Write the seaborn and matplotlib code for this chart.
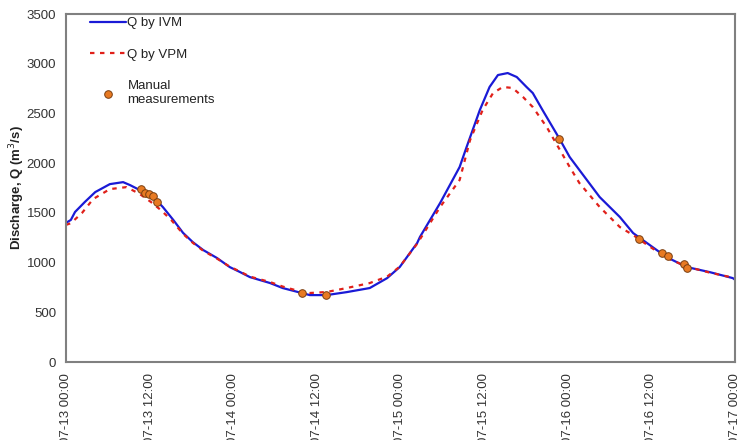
import matplotlib
matplotlib.use("Agg")
import matplotlib.pyplot as plt
import matplotlib.dates as mdates
import seaborn as sns
import pandas as pd
import numpy as np

# ---- data (hours since 07-13 00:00, discharge m3/s) ----
ivm_hours = [0, 0.7, 1.3, 2.7, 4.2, 6.3, 8.2, 9.2, 10.6, 12.5, 13.9, 15.4, 16.8, 18.2, 19.7,
             21.7, 23.5, 25.0, 26.4, 29.3, 31.1, 33.9, 35.0, 37.4, 40.3, 43.6, 46.1, 47.9,
             50.4, 50.8, 53.7, 56.5, 57.5, 59.4, 60.8, 62.0, 63.4, 64.7, 66.1, 67.0, 68.4,
             70.8, 72.3, 73.7, 76.6, 79.5, 81.4, 83.4, 86.2, 89.1, 92.4, 95.7, 96.0]
ivm_q = [1400, 1430, 1510, 1610, 1710, 1790, 1810, 1780, 1730, 1660, 1560, 1430, 1300, 1207,
         1127, 1046, 956, 905, 855, 795, 745, 694, 674, 674, 704, 745, 845, 956,
         1197, 1258, 1600, 1962, 2163, 2535, 2767, 2887, 2907, 2867, 2767, 2706, 2535,
         2250, 2062, 1931, 1660, 1459, 1298, 1197, 1056, 956, 905, 845, 830]

vpm_hours = [0, 0.7, 2.3, 3.9, 6.3, 8.7, 10.6, 12.2, 13.6, 15.1, 16.8, 18.2, 19.7, 21.7,
             23.5, 25.0, 26.4, 29.3, 31.1, 33.9, 35.0, 37.4, 40.3, 43.6, 46.1, 47.9, 50.4,
             53.7, 56.5, 58.0, 59.8, 61.3, 62.7, 64.1, 65.6, 67.0, 69.0, 70.9, 72.3, 73.7,
             76.6, 79.5, 81.4, 83.4, 86.2, 89.1, 92.4, 95.7, 96.0]
vpm_q = [1380, 1397, 1500, 1640, 1740, 1760, 1690, 1610, 1530, 1430, 1290, 1200, 1120, 1040,
         960, 910, 860, 805, 760, 705, 695, 705, 745, 795, 860, 960, 1190,
         1560, 1831, 2233, 2535, 2706, 2767, 2757, 2666, 2565, 2364, 2133, 1962, 1800,
         1560, 1358, 1278, 1180, 1050, 960, 900, 850, 840]

manual_hours = [10.8, 11.3, 11.9, 12.5, 13.0, 33.9, 37.3, 70.7, 82.2, 85.5, 86.4, 88.7, 89.2]
manual_q = [1740, 1700, 1690, 1670, 1610, 694, 674, 2243, 1237, 1097, 1066, 986, 946]

series_labels = ["Q by IVM", "Q by VPM", "Manual\nmeasurements"]
start = pd.Timestamp("2011-07-13 00:00")
end = pd.Timestamp("2011-07-17 00:00")

def to_time(h):
    return start + pd.to_timedelta(np.array(h, dtype=float), unit="h")

df_ivm = pd.DataFrame({"time": to_time(ivm_hours), "Q": ivm_q})
df_vpm = pd.DataFrame({"time": to_time(vpm_hours), "Q": vpm_q})
df_man = pd.DataFrame({"time": to_time(manual_hours), "Q": manual_q})

sns.set_theme(style="white")
plt.rcParams['font.family'] = ['Liberation Sans', 'DejaVu Sans']

fig = plt.figure(figsize=(7.43, 4.40), dpi=100)
ax = fig.add_axes([0.0888, 0.177, 0.9002, 0.791])

sns.lineplot(data=df_ivm, x="time", y="Q", ax=ax, color="#1a1ad6", lw=1.6,
             label=series_labels[0])
sns.lineplot(data=df_vpm, x="time", y="Q", ax=ax, color="#e0201a", lw=1.6,
             linestyle=(0, (2, 2.5)), label=series_labels[1])
sns.scatterplot(data=df_man, x="time", y="Q", ax=ax, color="#e87a22",
                edgecolor="#7a3e10", linewidth=0.7, s=30, zorder=5,
                label=series_labels[2])

ax.set_xlim(start, end)
ax.set_ylim(0, 3500)
ax.set_yticks(range(0, 3501, 500))
ax.xaxis.set_major_locator(mdates.HourLocator(byhour=[0, 12]))
ax.xaxis.set_major_formatter(mdates.DateFormatter("%m-%d %H:%M"))
for lab in ax.get_xticklabels():
    lab.set_rotation(90)
ax.tick_params(axis="x", labelsize=9.5, labelcolor="#333333", direction="out",
               length=3, width=1, color="#808080", pad=5)
ax.tick_params(axis="y", labelsize=9.5, labelcolor="#333333", direction="out",
               length=3, width=1, color="#808080", pad=4)
ax.set_xlabel("")
ax.set_ylabel("Discharge, Q (m$^3$/s)", fontsize=9.5, fontweight="bold",
              color="#222222", labelpad=0)
for sp in ax.spines.values():
    sp.set_visible(True)
    sp.set_color("#808080")
    sp.set_linewidth(1.5)

leg = ax.legend(loc="upper left", bbox_to_anchor=(0.018, 1.025), frameon=False,
                fontsize=9.5, handlelength=2.7, handletextpad=0.15,
                labelspacing=1.45)
for t in leg.get_texts():
    t.set_color("#222222")

fig.savefig("out.png", dpi=100)
